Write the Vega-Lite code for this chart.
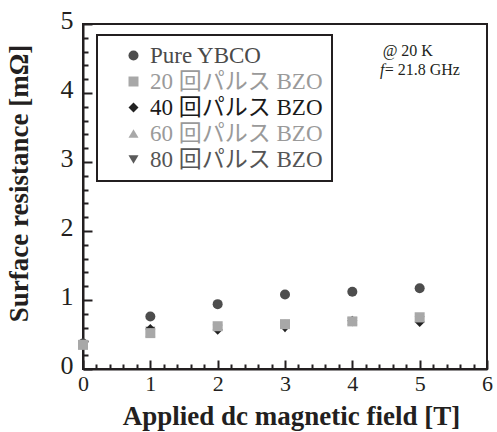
{
  "$schema": "https://vega.github.io/schema/vega-lite/v6.json",
  "width": 404,
  "height": 345,
  "autosize": {"type": "none"},
  "padding": {"left": 83, "top": 24, "right": 10, "bottom": 63},
  "config": {
    "view": {"stroke": "#231f20", "strokeWidth": 2},
    "font": "'Liberation Serif', serif"
  },
  "data": {
    "values": [
      {"series": "80 回パルス BZO", "field": 0, "rs": 0.33},
      {"series": "80 回パルス BZO", "field": 1, "rs": 0.55},
      {"series": "80 回パルス BZO", "field": 2, "rs": 0.58},
      {"series": "80 回パルス BZO", "field": 3, "rs": 0.59},
      {"series": "80 回パルス BZO", "field": 4, "rs": 0.68},
      {"series": "80 回パルス BZO", "field": 5, "rs": 0.70},
      {"series": "40 回パルス BZO", "field": 0, "rs": 0.34},
      {"series": "40 回パルス BZO", "field": 1, "rs": 0.58},
      {"series": "40 回パルス BZO", "field": 2, "rs": 0.57},
      {"series": "40 回パルス BZO", "field": 3, "rs": 0.61},
      {"series": "40 回パルス BZO", "field": 4, "rs": 0.70},
      {"series": "40 回パルス BZO", "field": 5, "rs": 0.68},
      {"series": "60 回パルス BZO", "field": 0, "rs": 0.35},
      {"series": "60 回パルス BZO", "field": 1, "rs": 0.53},
      {"series": "60 回パルス BZO", "field": 2, "rs": 0.62},
      {"series": "60 回パルス BZO", "field": 3, "rs": 0.66},
      {"series": "60 回パルス BZO", "field": 4, "rs": 0.70},
      {"series": "60 回パルス BZO", "field": 5, "rs": 0.74},
      {"series": "Pure YBCO", "field": 0, "rs": 0.37},
      {"series": "Pure YBCO", "field": 1, "rs": 0.76},
      {"series": "Pure YBCO", "field": 2, "rs": 0.94},
      {"series": "Pure YBCO", "field": 3, "rs": 1.08},
      {"series": "Pure YBCO", "field": 4, "rs": 1.12},
      {"series": "Pure YBCO", "field": 5, "rs": 1.17},
      {"series": "20 回パルス BZO", "field": 0, "rs": 0.35},
      {"series": "20 回パルス BZO", "field": 1, "rs": 0.52},
      {"series": "20 回パルス BZO", "field": 2, "rs": 0.62},
      {"series": "20 回パルス BZO", "field": 3, "rs": 0.65},
      {"series": "20 回パルス BZO", "field": 4, "rs": 0.69},
      {"series": "20 回パルス BZO", "field": 5, "rs": 0.75}
    ]
  },
  "resolve": {"axis": {"x": "independent", "y": "independent"}},
  "layer": [
    {
      "mark": {"type": "point", "filled": true, "opacity": 1, "size": 100},
      "encoding": {
        "x": {
          "field": "field", "type": "quantitative",
          "scale": {"domain": [0, 6], "nice": false},
          "axis": {
            "orient": "bottom", "values": [0, 1, 2, 3, 4, 5, 6],
            "tickSize": -9, "tickWidth": 2, "tickColor": "#231f20",
            "domainWidth": 2, "domainColor": "#231f20", "grid": false,
            "labelFontSize": 22, "labelFont": "'Liberation Serif', serif", "labelColor": "#231f20",
            "labelPadding": 13, "labelFlush": false,
            "title": "Applied dc magnetic field [T]",
            "titleFont": "'Liberation Serif', serif", "titleFontSize": 27, "titleFontWeight": "bold",
            "titleColor": "#231f20", "titleX": 208, "titleY": 55, "titleBaseline": "alphabetic"
          }
        },
        "y": {
          "field": "rs", "type": "quantitative",
          "scale": {"domain": [0, 5], "nice": false},
          "axis": {
            "orient": "left", "values": [0, 1, 2, 3, 4, 5],
            "tickSize": -9, "tickWidth": 2, "tickColor": "#231f20",
            "domainWidth": 2, "domainColor": "#231f20", "grid": false,
            "labelFontSize": 26, "labelFont": "'Liberation Serif', serif", "labelColor": "#231f20",
            "labelPadding": 19, "labelOffset": -4, "labelFlush": false,
            "title": "Surface resistance [mΩ]",
            "titleFont": "'Liberation Serif', serif", "titleFontSize": 27, "titleFontWeight": "bold",
            "titleColor": "#231f20", "titleX": -56, "titleY": 159, "titleAngle": 270,
            "titleBaseline": "alphabetic"
          }
        },
        "color": {
          "field": "series", "type": "nominal",
          "scale": {
            "domain": ["Pure YBCO", "20 回パルス BZO", "40 回パルス BZO", "60 回パルス BZO", "80 回パルス BZO"],
            "range": ["#4d4d4d", "#a8a8a8", "#222222", "#a8a8a8", "#5a5a5a"]
          },
          "legend": {
            "orient": "none", "legendX": 14, "legendY": 11, "title": null,
            "padding": 9, "strokeColor": "#231f20", "fillColor": "#ffffff",
            "symbolSize": 100, "symbolOffset": 16, "labelOffset": 5, "labelLimit": 400,
            "labelFontSize": 23, "labelFont": "'Liberation Serif', 'Noto Sans CJK JP', serif",
            "rowPadding": 2, "symbolStrokeWidth": 0, "symbolOpacity": 1,
            "encode": {
              "legend": {"update": {"strokeWidth": {"value": 2}}},
              "labels": {"update": {"fill": {"signal": "datum.value === 'Pure YBCO' ? '#4a4a4a' : datum.value === '40 回パルス BZO' ? '#1a1a1a' : datum.value === '80 回パルス BZO' ? '#555555' : '#9a9a9a'"}}}
            }
          }
        },
        "shape": {
          "field": "series", "type": "nominal",
          "scale": {
            "domain": ["Pure YBCO", "20 回パルス BZO", "40 回パルス BZO", "60 回パルス BZO", "80 回パルス BZO"],
            "range": ["circle", "square", "diamond", "triangle-up", "triangle-down"]
          },
          "legend": {
            "orient": "none", "legendX": 14, "legendY": 11, "title": null,
            "padding": 9, "strokeColor": "#231f20", "fillColor": "#ffffff",
            "symbolSize": 100, "symbolOffset": 16, "labelOffset": 5, "labelLimit": 400,
            "labelFontSize": 23, "labelFont": "'Liberation Serif', 'Noto Sans CJK JP', serif",
            "rowPadding": 2, "symbolStrokeWidth": 0, "symbolOpacity": 1,
            "encode": {
              "legend": {"update": {"strokeWidth": {"value": 2}}},
              "labels": {"update": {"fill": {"signal": "datum.value === 'Pure YBCO' ? '#4a4a4a' : datum.value === '40 回パルス BZO' ? '#1a1a1a' : datum.value === '80 回パルス BZO' ? '#555555' : '#9a9a9a'"}}}
            }
          }
        }
      }
    },
    {
      "mark": {"type": "point", "opacity": 0},
      "encoding": {
        "x": {
          "field": "field", "type": "quantitative",
          "scale": {"domain": [0, 6], "nice": false},
          "axis": {
            "orient": "bottom",
            "values": [0.2, 0.4, 0.6, 0.8, 1.2, 1.4, 1.6, 1.8, 2.2, 2.4, 2.6, 2.8, 3.2, 3.4, 3.6, 3.8, 4.2, 4.4, 4.6, 4.8, 5.2, 5.4, 5.6, 5.8],
            "tickSize": -5, "tickWidth": 2, "tickColor": "#231f20",
            "domain": false, "labels": false, "grid": false, "title": null
          }
        },
        "y": {
          "field": "rs", "type": "quantitative",
          "scale": {"domain": [0, 5], "nice": false},
          "axis": {
            "orient": "left",
            "values": [0.2, 0.4, 0.6, 0.8, 1.2, 1.4, 1.6, 1.8, 2.2, 2.4, 2.6, 2.8, 3.2, 3.4, 3.6, 3.8, 4.2, 4.4, 4.6, 4.8],
            "tickSize": -5, "tickWidth": 2, "tickColor": "#231f20",
            "domain": false, "labels": false, "grid": false, "title": null
          }
        }
      }
    },
    {
      "data": {"values": [{}]},
      "mark": {"type": "text", "text": "@ 20 K", "font": "'Liberation Serif', serif", "fontSize": 16, "align": "left", "baseline": "alphabetic", "color": "#231f20"},
      "encoding": {
        "x": {"datum": 4.45, "type": "quantitative", "axis": null},
        "y": {"datum": 4.53, "type": "quantitative", "axis": null}
      }
    },
    {
      "data": {"values": [{}]},
      "mark": {"type": "text", "text": "f", "font": "'Liberation Serif', serif", "fontStyle": "italic", "fontSize": 16, "align": "left", "baseline": "alphabetic", "color": "#231f20"},
      "encoding": {
        "x": {"datum": 4.41, "type": "quantitative", "axis": null},
        "y": {"datum": 4.26, "type": "quantitative", "axis": null}
      }
    },
    {
      "data": {"values": [{}]},
      "mark": {"type": "text", "text": "= 21.8 GHz", "font": "'Liberation Serif', serif", "fontSize": 16, "align": "left", "baseline": "alphabetic", "color": "#231f20"},
      "encoding": {
        "x": {"datum": 4.48, "type": "quantitative", "axis": null},
        "y": {"datum": 4.26, "type": "quantitative", "axis": null}
      }
    }
  ]
}
